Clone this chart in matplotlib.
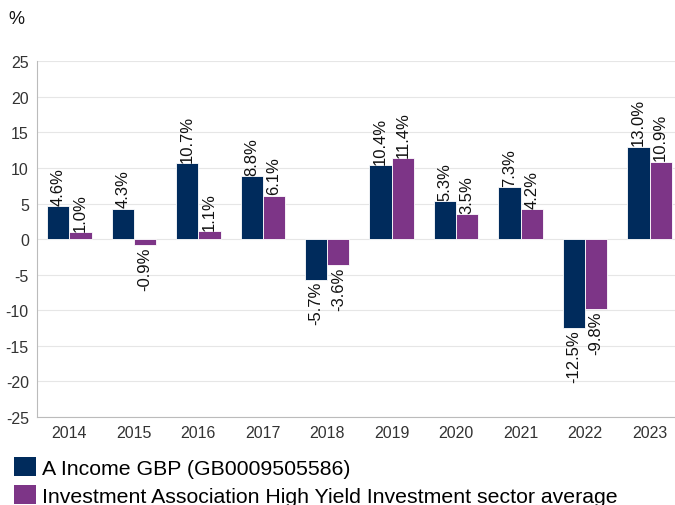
import matplotlib.pyplot as plt
import numpy as np
from matplotlib.patches import Patch

years = ["2014", "2015", "2016", "2017", "2018", "2019", "2020", "2021", "2022", "2023"]
fund = [4.6, 4.3, 10.7, 8.8, -5.7, 10.4, 5.3, 7.3, -12.5, 13.0]
sector = [1.0, -0.9, 1.1, 6.1, -3.6, 11.4, 3.5, 4.2, -9.8, 10.9]
series_names = [
    "A Income GBP (GB0009505586)",
    "Investment Association High Yield Investment sector average",
]
colors = ["#002b5c", "#7d3587"]

plt.rcParams["font.family"] = ["Liberation Sans", "DejaVu Sans"]
plt.rcParams["axes.unicode_minus"] = False

fig = plt.figure(figsize=(6.75, 5.06), dpi=100)
ax = fig.add_axes([0.055, 0.174, 0.955, 0.703])

x = np.arange(len(years))
w = 0.345
for vals, off, col in [(fund, -w / 2, colors[0]), (sector, w / 2, colors[1])]:
    bars = ax.bar(x + off, vals, width=w, color=col, edgecolor="white", linewidth=0.6, zorder=3)
    for b, v in zip(bars, vals):
        cx = b.get_x() + b.get_width() / 2
        if v >= 0:
            ax.text(cx, v + 0.2, f"{v:.1f}%", rotation=90, ha="center", va="bottom",
                    fontsize=12, color="#111111", zorder=4)
        else:
            ax.text(cx, v - 0.2, f"{v:.1f}%", rotation=90, ha="center", va="top",
                    fontsize=12, color="#111111", zorder=4)

ax.set_ylim(-25, 25)
ax.set_yticks(range(-25, 30, 5))
ax.set_xlim(-0.5, len(years) - 0.5)
ax.set_xticks(x)
ax.set_xticklabels(years)
ax.tick_params(length=0, labelsize=11.5, colors="#333333", pad=6)
ax.grid(axis="y", color="#e6e6e6", linewidth=0.8, zorder=0)
for s in ["top", "right"]:
    ax.spines[s].set_visible(False)
for s in ["left", "bottom"]:
    ax.spines[s].set_color("#bbbbbb")
    ax.spines[s].set_linewidth(0.8)

fig.text(0.013, 0.962, "%", fontsize=13, color="#111111", va="center")

handles = [Patch(facecolor=c, edgecolor="none") for c in colors]
fig.legend(handles, series_names, loc="lower left", bbox_to_anchor=(0.008, -0.018),
           frameon=False, fontsize=15.3, handlelength=1.05, handleheight=1.05,
           handletextpad=0.25, labelspacing=0.32, borderaxespad=0.0)

fig.savefig("out.png", dpi=100)
